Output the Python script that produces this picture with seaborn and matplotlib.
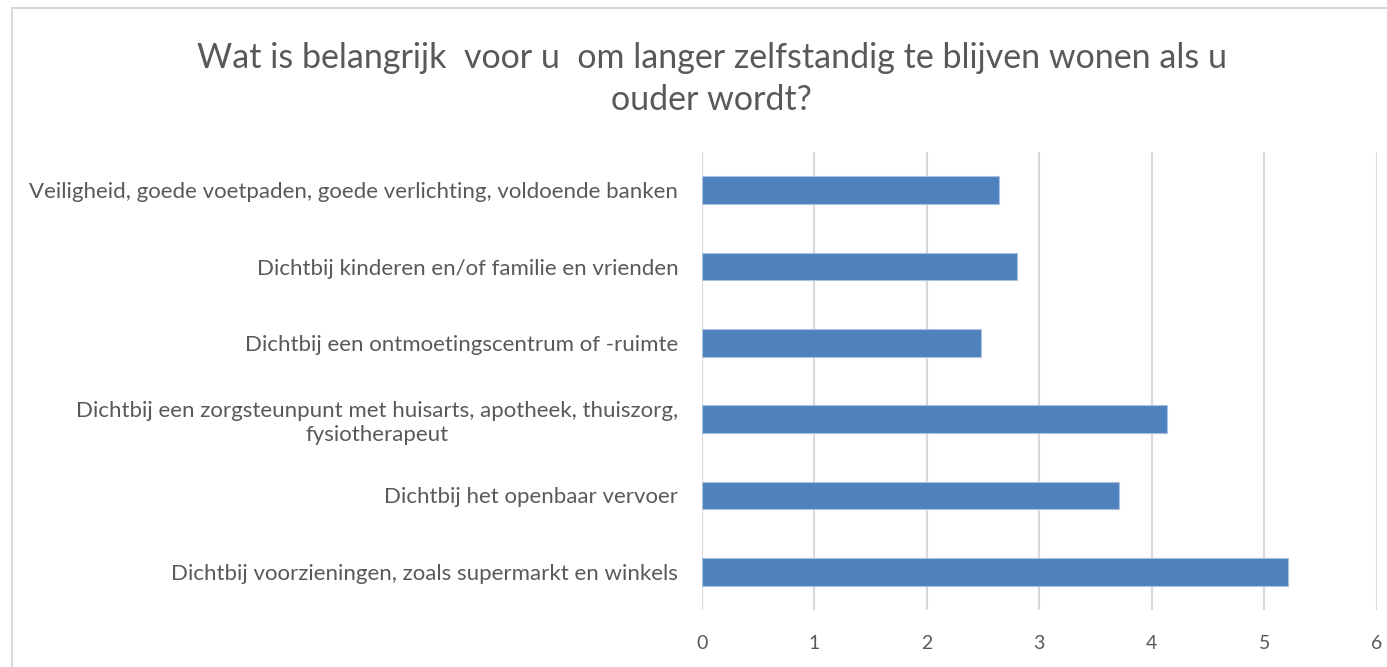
import matplotlib
matplotlib.use("Agg")
import matplotlib.pyplot as plt
import seaborn as sns
import pandas as pd
from matplotlib.patches import Rectangle

# Data
categorieen = [
    "Veiligheid, goede voetpaden, goede verlichting, voldoende banken",
    "Dichtbij kinderen en/of familie en vrienden",
    "Dichtbij een ontmoetingscentrum of -ruimte",
    "Dichtbij een zorgsteunpunt met huisarts, apotheek, thuiszorg,\nfysiotherapeut",
    "Dichtbij het openbaar vervoer",
    "Dichtbij voorzieningen, zoals supermarkt en winkels",
]
scores = [2.64, 2.80, 2.48, 4.14, 3.71, 5.21]
x_ticks = [0, 1, 2, 3, 4, 5, 6]

titel = "Wat is belangrijk  voor u  om langer zelfstandig te blijven wonen als u\nouder wordt?"

df = pd.DataFrame({"categorie": categorieen, "score": scores})

sns.set_theme(style="white")
plt.rcParams['font.family'] = ['Lato', 'DejaVu Sans']

tekstkleur = "#595959"
gridkleur = "#D9D9D9"

fig = plt.figure(figsize=(13.87, 6.67), dpi=100)
ax = fig.add_axes([0.506, 0.0855, 0.4865, 0.6865])

sns.barplot(data=df, x="score", y="categorie", orient="h", color="#4F81BD",
            saturation=1, width=0.36, edgecolor="#A9C0E0", linewidth=0.8, ax=ax)

ax.set_xlim(0, 6)
ax.set_xticks(x_ticks)
ax.xaxis.grid(True, color=gridkleur, linewidth=1.5)
ax.set_axisbelow(True)
for s in ax.spines.values():
    s.set_visible(False)
ax.set_xlabel("")
ax.set_ylabel("")
ax.tick_params(axis="x", length=0, pad=18, labelsize=14, labelcolor=tekstkleur)
ax.tick_params(axis="y", length=0, pad=17, labelsize=16, labelcolor=tekstkleur)
for lbl in ax.get_yticklabels():
    lbl.set_multialignment("center")
    lbl.set_linespacing(1.25)

fig.text(0.513, 0.882, titel, ha="center", va="center", fontsize=24.5,
         color=tekstkleur, linespacing=1.4)

# Rand rond de grafiek
fig.patches.append(Rectangle((12 / 1387, -0.1), 1.2, 1.1 - 8 / 667, transform=fig.transFigure,
                             fill=False, edgecolor=gridkleur, linewidth=1.5))

fig.savefig("out.png", dpi=100)
